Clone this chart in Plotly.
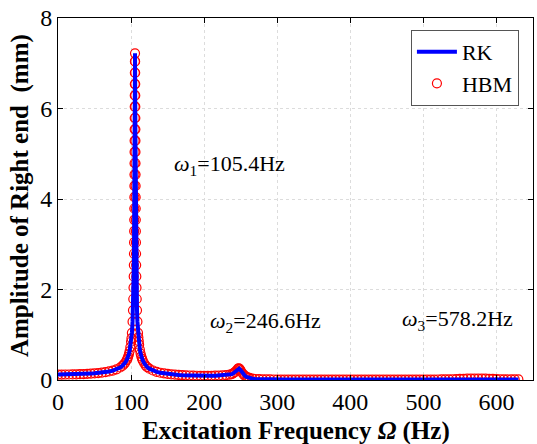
import plotly.graph_objects as go

# ---- data (frequency in Hz, amplitude in mm) ----
freq_low = [0, 5, 10, 15, 20, 25, 30, 35, 40, 45, 50, 55, 60, 65, 70, 75, 80, 85, 88,
            90, 92, 94, 95, 96, 97, 98, 99, 100, 100.5]
amp_low = [0.120, 0.120, 0.121, 0.122, 0.124, 0.126, 0.129, 0.132, 0.136, 0.141, 0.147,
           0.154, 0.163, 0.174, 0.189, 0.208, 0.235, 0.276, 0.311,
           0.343, 0.384, 0.439, 0.47, 0.518, 0.571, 0.639, 0.728, 0.845, 0.92]

freq_peak = [101.14, 102.02, 102.61, 103.03, 103.35, 103.60, 103.80, 103.97, 104.11,
             104.24, 104.34, 104.43, 104.52, 104.59, 104.66, 104.73, 104.79, 104.85,
             104.90, 104.96, 105.01, 105.06, 105.12, 105.18, 105.26, 105.4,
             105.54, 105.62, 105.68, 105.73, 105.79, 105.84, 105.89, 105.95, 106.00,
             106.06, 106.13, 106.20, 106.27, 106.36, 106.45, 106.55, 106.67, 106.81,
             106.97, 107.16, 107.41, 107.71, 108.11, 108.67, 109.50]
amp_peak = [1.04, 1.29, 1.54, 1.79, 2.04, 2.29, 2.54, 2.79, 3.04,
            3.29, 3.54, 3.79, 4.04, 4.29, 4.54, 4.79, 5.04, 5.29,
            5.54, 5.79, 6.04, 6.29, 6.54, 6.79, 7.04, 7.22,
            7.04, 6.79, 6.54, 6.29, 6.04, 5.79, 5.54, 5.29, 5.04,
            4.79, 4.54, 4.29, 4.04, 3.79, 3.54, 3.29, 3.04, 2.79,
            2.54, 2.29, 2.04, 1.79, 1.54, 1.29, 1.04]

freq_mid = [110, 110.5, 111, 112, 113, 114, 115, 116, 118, 120, 122, 125, 130, 135, 140,
            145, 150, 155, 160, 165, 170, 175, 180, 185, 190, 195, 200, 205, 210, 215,
            220, 225, 230, 235, 238, 240, 242, 244, 246, 247, 248, 249, 250, 252, 254,
            256, 258, 260, 262, 266, 270, 275]
amp_mid = [0.94, 0.86, 0.78, 0.67, 0.585, 0.52, 0.47, 0.43, 0.37, 0.32, 0.285, 0.25, 0.21,
           0.18, 0.16, 0.147, 0.135, 0.126, 0.118, 0.112, 0.107, 0.103, 0.099, 0.096,
           0.094, 0.093, 0.092, 0.092, 0.093, 0.095, 0.098, 0.102, 0.108, 0.118, 0.13,
           0.15, 0.175, 0.21, 0.245, 0.255, 0.25, 0.235, 0.21, 0.16, 0.12, 0.09, 0.07,
           0.055, 0.045, 0.03, 0.022, 0.018]

freq_high = [280, 285, 290, 295, 300, 305, 310, 315, 320, 325, 330, 335, 340, 345, 350,
             355, 360, 365, 370, 375, 380, 385, 390, 395, 400, 405, 410, 415, 420, 425,
             430, 435, 440, 445, 450, 455, 460, 465, 470, 475, 480, 485, 490, 495, 500,
             505, 510, 515, 520, 525, 530, 535, 540, 545, 550, 555, 560, 565, 570, 575,
             580, 585, 590, 595, 600, 605, 610, 615, 620, 625, 630]
amp_high = [0.015, 0.013, 0.012, 0.011, 0.010, 0.010, 0.010, 0.010, 0.010, 0.010, 0.010,
            0.010, 0.010, 0.010, 0.010, 0.010, 0.010, 0.010, 0.010, 0.010, 0.010, 0.010,
            0.010, 0.010, 0.010, 0.010, 0.010, 0.010, 0.010, 0.010, 0.010, 0.010, 0.010,
            0.010, 0.010, 0.010, 0.010, 0.010, 0.010, 0.010, 0.010, 0.010, 0.010, 0.010,
            0.010, 0.010, 0.010, 0.010, 0.011, 0.012, 0.013, 0.015, 0.017, 0.020, 0.024,
            0.027, 0.030, 0.031, 0.032, 0.031, 0.030, 0.029, 0.027, 0.024, 0.020, 0.017,
            0.015, 0.013, 0.012, 0.012, 0.012]

freq = freq_low + freq_peak + freq_mid + freq_high
amp_rk = amp_low + amp_peak + amp_mid + amp_high   # RK solution
amp_hbm = list(amp_rk)                              # HBM solution (same points)

ann_x = [235, 284, 546]
ann_y = [4.75, 1.28, 1.33]
ann_text = ["<i>ω</i><sub>1</sub>=105.4Hz", "<i>ω</i><sub>2</sub>=246.6Hz",
            "<i>ω</i><sub>3</sub>=578.2Hz"]

x_ticks = [0, 100, 200, 300, 400, 500, 600]
y_ticks = [0, 2, 4, 6, 8]

FONT = "Liberation Serif, Times New Roman, serif"

fig = go.Figure()
fig.add_trace(go.Scatter(
    x=freq, y=amp_hbm, mode="markers", name="HBM", legendrank=2,
    marker=dict(symbol="circle-open", size=9, color="#FF0000",
                line=dict(width=1.2, color="#FF0000")),
))
fig.add_trace(go.Scatter(
    x=freq, y=amp_rk, mode="lines", name="RK", legendrank=1,
    line=dict(color="#0000FF", width=4),
))

for x, y, t in zip(ann_x, ann_y, ann_text):
    fig.add_annotation(x=x, y=y, text=t, showarrow=False,
                       font=dict(family=FONT, size=22, color="black"))

# axis titles
fig.add_annotation(xref="paper", yref="paper", x=0.502, y=-0.141,
                   xanchor="center", yanchor="middle", showarrow=False,
                   text="<b>Excitation Frequency <i>Ω</i> (Hz)</b>",
                   font=dict(family=FONT, size=25, color="black"))
fig.add_annotation(xref="paper", yref="paper", x=-0.08, y=0.508,
                   xanchor="center", yanchor="middle", showarrow=False,
                   textangle=-90,
                   text="<b>Amplitude of Right end  (mm)</b>",
                   font=dict(family=FONT, size=25, color="black"))

axis_common = dict(
    showline=True, linecolor="black", linewidth=1, mirror="ticks",
    ticks="inside", ticklen=5, tickcolor="black",
    showgrid=True, gridcolor="#dcdcdc", griddash="dot", gridwidth=1,
    zeroline=False, automargin=False,
    tickfont=dict(family=FONT, size=24, color="black"),
)

fig.update_layout(
    width=537, height=444,
    margin=dict(l=58, r=4, t=18, b=64),
    paper_bgcolor="white", plot_bgcolor="white",
    font=dict(family=FONT, color="black"),
    xaxis=dict(range=[0, 650], tickvals=x_ticks, **axis_common),
    yaxis=dict(range=[0, 8], tickvals=y_ticks, **axis_common),
    legend=dict(x=0.743, y=0.967, xanchor="left", yanchor="top",
                bgcolor="white", bordercolor="#555555", borderwidth=1,
                font=dict(family=FONT, size=22, color="black"),
                itemwidth=40, tracegroupgap=0),
    showlegend=True,
)

# remove the default page margin so the figure fills the 537x444 window exactly
fig.write_html("out.html",
               config={"displayModeBar": False},
               post_script="document.body.style.margin='0';"
                           "document.body.style.overflow='hidden';")
